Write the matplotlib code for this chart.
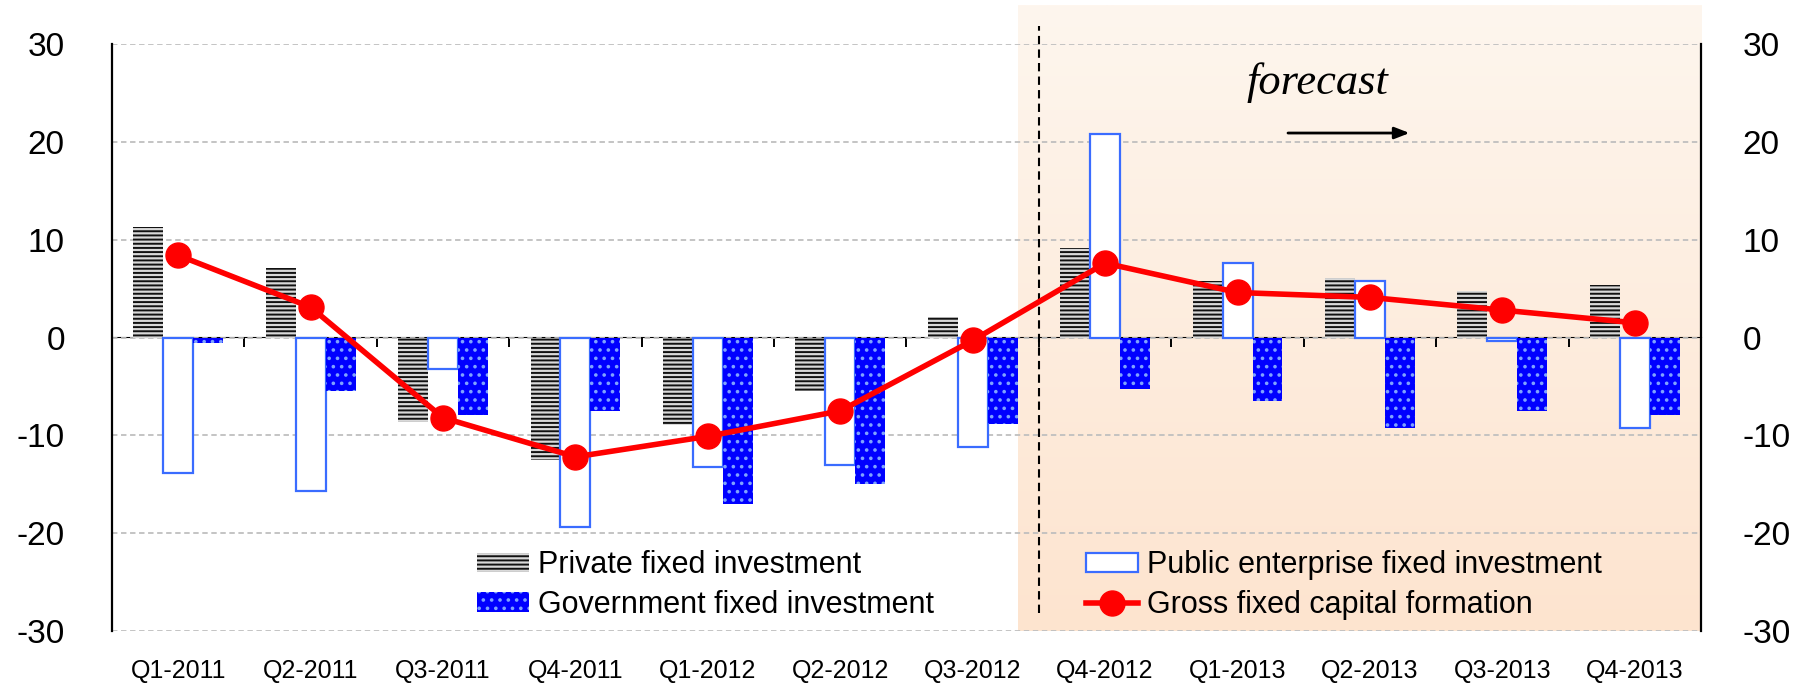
import numpy as np
import matplotlib
matplotlib.use("Agg")
import matplotlib.pyplot as plt
from matplotlib.colors import LinearSegmentedColormap

plt.rcParams['font.family'] = ['Liberation Sans', 'DejaVu Sans']
plt.rcParams['hatch.linewidth'] = 1.4
plt.rcParams['axes.unicode_minus'] = False

quarters = ["Q1-2011", "Q2-2011", "Q3-2011", "Q4-2011", "Q1-2012", "Q2-2012",
            "Q3-2012", "Q4-2012", "Q1-2013", "Q2-2013", "Q3-2013", "Q4-2013"]
private = [11.3, 7.1, -8.6, -12.5, -8.9, -5.5, 2.1, 9.1, 5.8, 6.1, 4.8, 5.4]
public = [-13.9, -15.7, -3.2, -19.4, -13.2, -13.0, -11.2, 20.8, 7.6, 5.8, -0.4, -9.2]
government = [-0.6, -5.5, -7.9, -7.5, -17.0, -15.0, -8.8, -5.3, -6.5, -9.3, -7.5, -7.9]
gross = [8.4, 3.1, -8.2, -12.2, -10.1, -7.5, -0.3, 7.6, 4.6, 4.1, 2.8, 1.5]

W, H = 1808, 685
fig = plt.figure(figsize=(W / 100, H / 100), dpi=100)
fig.subplots_adjust(left=112 / W, right=1701 / W, top=1 - 44 / H, bottom=1 - 631 / H)
ax = fig.add_subplot(111)

x = np.arange(len(quarters))
bw = 0.226

# forecast shading (gradient), reaches a bit above the plot area
grad = np.linspace(0, 1, 256).reshape(-1, 1)
cmap = LinearSegmentedColormap.from_list("peach", ["#fef6ee", "#fde4cf"])
ax.imshow(grad, cmap=cmap, aspect='auto', extent=[6.34, 11.5, -30, 33.9],
          origin='upper', zorder=0, clip_on=False)

ax.bar(x - bw, private, bw, facecolor='#d9d9d9', edgecolor='#111111',
       hatch='----', linewidth=0, zorder=2, label='Private fixed investment')
ax.bar(x, public, bw, facecolor='white', edgecolor='#3a6cff',
       linewidth=1.6, zorder=2, label='Public enterprise fixed investment')
ax.bar(x + bw, government, bw, facecolor='#0000ff', edgecolor='#7fa3ff',
       hatch='..', linewidth=0, zorder=2, label='Government fixed investment')
ax.plot(x, gross, color='#ff0000', lw=4, marker='o', markersize=18,
        zorder=4, label='Gross fixed capital formation')

ax.set_xlim(-0.5, 11.5)
ax.set_ylim(-30, 30)
ax.set_yticks(np.arange(-30, 31, 10))
ax.set_xticks(x)
ax.set_xticklabels(quarters)
ax.tick_params(axis='x', length=0, pad=20, labelsize=18)
ax.tick_params(axis='y', length=0, pad=34, labelsize=24)
ax.grid(axis='y', color='#bfbfbf', linestyle=(0, (3, 2)), lw=1.3)
ax.set_axisbelow(True)
ax.patch.set_visible(False)
for s in ['top', 'bottom']:
    ax.spines[s].set_visible(False)
ax.spines['left'].set_linewidth(1.6)
ax.spines['right'].set_linewidth(1.6)

# right-hand labels
ax2 = ax.twinx()
ax2.set_ylim(-30, 30)
ax2.set_yticks(np.arange(-30, 31, 10))
ax2.tick_params(axis='y', length=0, pad=30, labelsize=24)
for s in ['top', 'bottom', 'left', 'right']:
    ax2.spines[s].set_visible(False)

# zero line with small ticks between quarters
sec = ax.secondary_xaxis(0.5)
sec.set_xticks(np.arange(0.5, 11, 1))
sec.set_xticklabels([])
sec.tick_params(axis='x', direction='in', length=7, width=1.4)
sec.spines['bottom'].set_linewidth(1.6)

ax.axvline(6.5, ymin=0.031, ymax=1.03, color='black', lw=1.5,
           linestyle=(0, (4, 2.5)), clip_on=False, zorder=3)

ax.text(8.6, 26.1, "forecast", fontsize=32, style='italic',
        family=['Liberation Serif', 'DejaVu Serif'], ha='center', va='center')
ax.annotate("", xy=(9.32, 20.9), xytext=(8.36, 20.9),
            arrowprops=dict(arrowstyle='-|>,head_length=0.9,head_width=0.35',
                            color='black', lw=2))

handles, labels = ax.get_legend_handles_labels()
hmap = dict(zip(labels, handles))
common = dict(frameon=False, fontsize=22, handlelength=1.7, handleheight=0.6,
              handletextpad=0.3, labelspacing=0.32, borderpad=0,
              borderaxespad=0, loc='center left')
leg1 = fig.legend([hmap['Private fixed investment'], hmap['Government fixed investment']],
                  ['Private fixed investment', 'Government fixed investment'],
                  bbox_to_anchor=(477 / W, 1 - 585 / H), **common)
leg2 = fig.legend([hmap['Public enterprise fixed investment'], hmap['Gross fixed capital formation']],
                  ['Public enterprise fixed investment', 'Gross fixed capital formation'],
                  bbox_to_anchor=(1086 / W, 1 - 585 / H), **common)

fig.savefig("out.png", dpi=100)
